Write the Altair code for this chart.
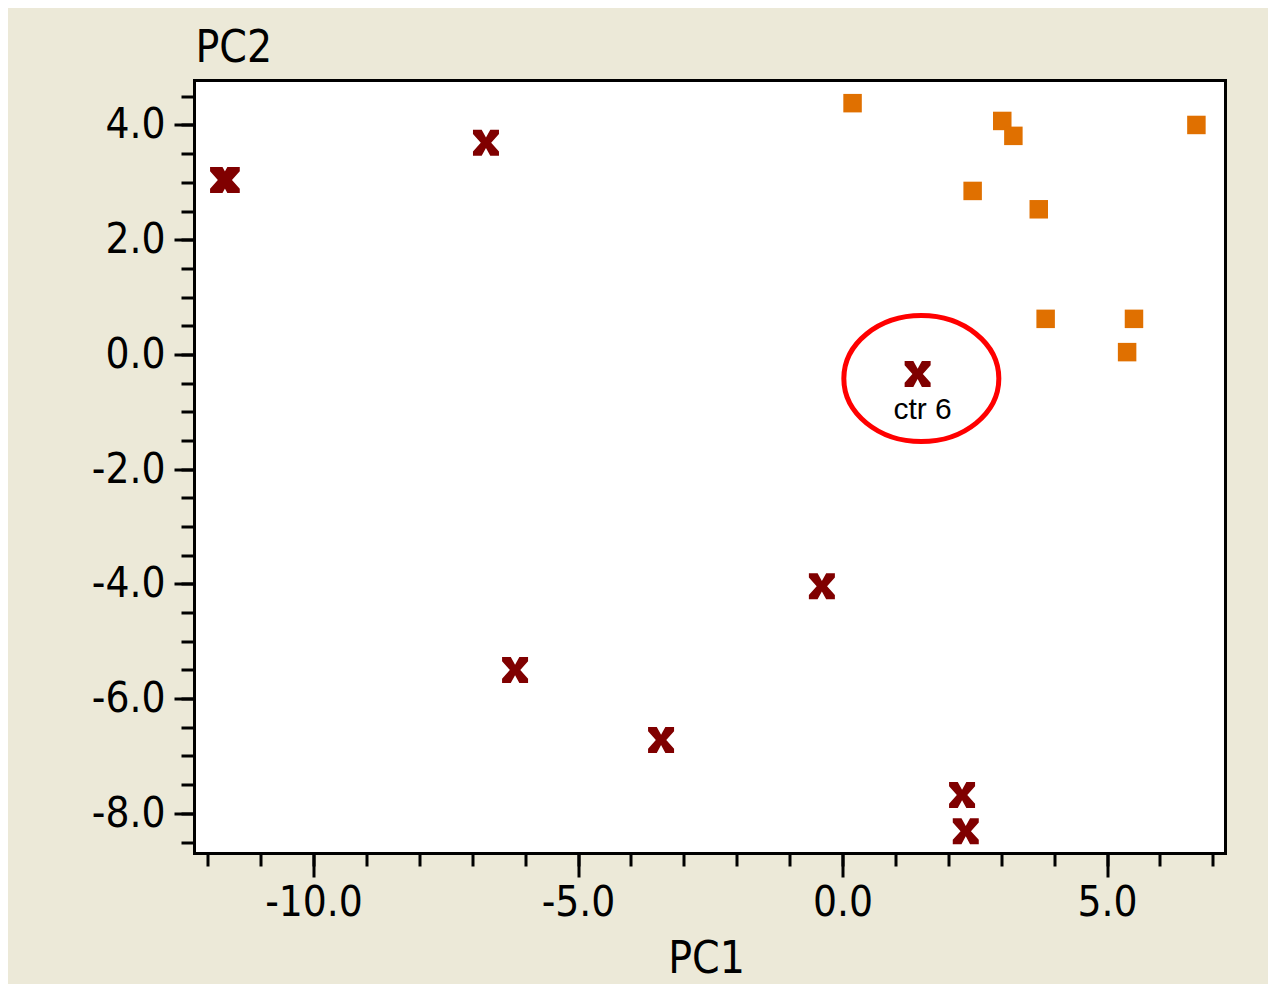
import altair as alt
import pandas as pd

# ---- data ----
red_pc1 = [-11.71, -11.64, -6.74, 1.42, -0.39, -6.19, -3.43, 2.26, 2.33]
red_pc2 = [3.04, 3.04, 3.69, -0.34, -4.04, -5.50, -6.72, -7.68, -8.31]
orange_pc1 = [0.19, 3.02, 3.23, 6.69, 2.46, 3.71, 3.84, 5.51, 5.38]
orange_pc2 = [4.38, 4.07, 3.81, 4.00, 2.85, 2.53, 0.62, 0.62, 0.04]
label_text = ["ctr 6"]
label_pc1 = [1.42]
label_pc2 = [-0.34]
circle_pc1 = [1.49]
circle_pc2 = [-0.42]

x_major = [-10, -5, 0, 5]
x_minor = [-12, -11, -10, -9, -8, -7, -6, -5, -4, -3, -2, -1, 0, 1, 2, 3, 4, 5, 6, 7]
y_major = [-8, -6, -4, -2, 0, 2, 4]
y_minor = [-8.5, -8, -7.5, -7, -6.5, -6, -5.5, -5, -4.5, -4, -3.5, -3, -2.5, -2,
           -1.5, -1, -0.5, 0, 0.5, 1, 1.5, 2, 2.5, 3, 3.5, 4, 4.5]
x_domain = [-12.25, 7.24]
y_domain = [-8.70, 4.775]

red_df = pd.DataFrame({"PC1": red_pc1, "PC2": red_pc2})
orange_df = pd.DataFrame({"PC1": orange_pc1, "PC2": orange_pc2})
label_df = pd.DataFrame({"PC1": label_pc1, "PC2": label_pc2, "t": label_text})
circle_df = pd.DataFrame({"PC1": circle_pc1, "PC2": circle_pc2})

FONT = "Liberation Sans Narrow, DejaVu Sans Condensed, Arial Narrow, sans-serif"
LBL = "(datum.value < 0 ? '-' : '') + format(abs(datum.value), '.1f')"

xs = alt.Scale(domain=x_domain, nice=False, zero=False)
ys = alt.Scale(domain=y_domain, nice=False, zero=False)

x_major_axis = alt.Axis(
    orient="bottom", values=x_major, domain=False, grid=False,
    tickSize=23.5, tickWidth=3, tickColor="black",
    labelExpr=LBL, labelFont=FONT, labelFontSize=42, labelColor="black",
    labelPadding=5, labelOverlap=False, labelFlush=False,
    title="PC1", titleFont=FONT, titleFontSize=44, titleFontWeight="normal",
    titleColor="black", titleX=511.5, titleY=118.5, titleAnchor="middle",
    titleAlign="center", titleBaseline="alphabetic",
)
y_major_axis = alt.Axis(
    orient="left", values=y_major, domain=False, grid=False,
    tickSize=20.5, tickWidth=3, tickColor="black",
    labelExpr=LBL, labelFont=FONT, labelFontSize=42, labelColor="black",
    labelPadding=9, labelOverlap=False, labelFlush=False,
    title="PC2", titleFont=FONT, titleFontSize=44, titleFontWeight="normal",
    titleColor="black", titleAngle=0, titleX=0.5, titleY=-19.5,
    titleAlign="left", titleBaseline="alphabetic",
)
x_minor_axis = alt.Axis(
    orient="bottom", values=x_minor, domain=False, grid=False, labels=False,
    tickSize=12.5, tickWidth=3, tickColor="black", title=None,
)
y_minor_axis = alt.Axis(
    orient="left", values=y_minor, domain=False, grid=False, labels=False,
    tickSize=13.5, tickWidth=3, tickColor="black", title=None,
)

X_SHAPE = ("M-1,-1 H-0.33 L0,-0.4 L0.33,-1 H1 V-0.67 L0.4,0 L1,0.67 V1 H0.33 "
           "L0,0.4 L-0.33,1 H-1 V0.67 L-0.4,0 L-1,-0.67 Z")
r = 0.813
k = 0.5523
ELLIPSE = (f"M1,0 C1,{k*r:.4f} {k:.4f},{r} 0,{r} C-{k:.4f},{r} -1,{k*r:.4f} -1,0 "
           f"C-1,-{k*r:.4f} -{k:.4f},-{r} 0,-{r} C{k:.4f},-{r} 1,-{k*r:.4f} 1,0 Z")

squares = alt.Chart(orange_df).mark_point(
    shape="square", filled=True, size=342, color="#E07000", opacity=1, strokeWidth=0
).encode(
    x=alt.X("PC1:Q", scale=xs, axis=None),
    y=alt.Y("PC2:Q", scale=ys, axis=None),
)

crosses = alt.Chart(red_df).mark_point(
    shape=X_SHAPE, filled=True, size=676, color="#800000", opacity=1, strokeWidth=0
).encode(
    x=alt.X("PC1:Q", scale=xs, axis=x_major_axis),
    y=alt.Y("PC2:Q", scale=ys, axis=y_major_axis),
)

label = alt.Chart(label_df).mark_text(
    font="Liberation Sans", fontSize=30, color="black", align="center",
    baseline="alphabetic", dx=5, dy=45
).encode(
    x=alt.X("PC1:Q", scale=xs, axis=None),
    y=alt.Y("PC2:Q", scale=ys, axis=None),
    text="t:N",
)

ellipse = alt.Chart(circle_df).mark_point(
    shape=ELLIPSE, filled=False, size=24025, stroke="#FF0000", strokeWidth=5, opacity=1
).encode(
    x=alt.X("PC1:Q", scale=xs, axis=x_minor_axis),
    y=alt.Y("PC2:Q", scale=ys, axis=y_minor_axis),
)

chart = alt.layer(squares, crosses, label, ellipse).resolve_axis(
    x="independent", y="independent"
).properties(
    width=1031, height=773,
    autosize=alt.AutoSizeParams(type="none"),
    padding={"left": 186.5, "top": 72.5, "right": 42.5, "bottom": 130.5},
    background="#ECE9D8",
).configure_view(
    stroke="black", strokeWidth=3, fill="white"
)

chart.save("out.html", embed_options={"renderer": "svg", "actions": False})
